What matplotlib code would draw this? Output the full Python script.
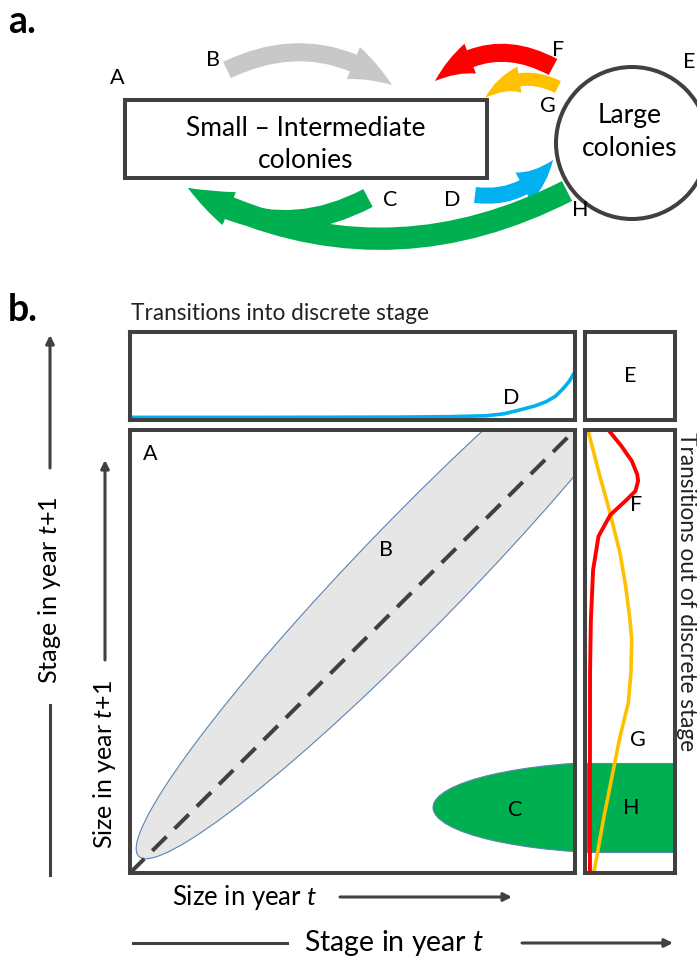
import matplotlib
matplotlib.use("Agg")
import matplotlib.pyplot as plt
from matplotlib.patches import Rectangle, Ellipse, FancyArrowPatch

plt.rcParams['font.family'] = ['Lato', 'DejaVu Sans']
plt.rcParams['mathtext.fontset'] = 'custom'
plt.rcParams['mathtext.rm'] = 'Lato'
plt.rcParams['mathtext.it'] = 'Lato:italic'

W, H = 697, 959
DARK = '#404040'
GREEN = '#00B050'
BLUE = '#00B0F0'
RED = '#FF0000'
YELLOW = '#FFC000'

# D: transition into the large-colony stage along size in year t
d_size = [0.0, 0.3, 0.6, 0.72, 0.8, 0.84, 0.876, 0.91, 0.936, 0.956, 0.974, 0.987, 1.0]
d_prob = [0.03, 0.03, 0.033, 0.038, 0.048, 0.07, 0.114, 0.16, 0.21, 0.27, 0.36, 0.44, 0.55]

# F and G: transitions out of the large-colony stage along size in year t+1
f_size = [1.0, 0.965, 0.93, 0.90, 0.885, 0.862, 0.842, 0.808, 0.76, 0.684, 0.57, 0.45, 0.25, 0.0]
f_prob = [0.26, 0.40, 0.52, 0.58, 0.59, 0.56, 0.46, 0.28, 0.15, 0.09, 0.065, 0.056, 0.055, 0.055]
g_size = [0.996, 0.90, 0.813, 0.722, 0.65, 0.571, 0.526, 0.45, 0.384, 0.308, 0.233, 0.120, 0.014, 0.0]
g_prob = [0.037, 0.16, 0.278, 0.389, 0.45, 0.50, 0.519, 0.51, 0.481, 0.389, 0.315, 0.204, 0.111, 0.093]

# H: large colonies falling back into this size range
h_low, h_high = 0.048, 0.2475

fig = plt.figure(figsize=(W / 100, H / 100), dpi=100)
bg = fig.add_axes([0, 0, 1, 1])
bg.set_xlim(0, W)
bg.set_ylim(H, 0)
bg.axis('off')


def px_axes(x0, y0, x1, y1):
    ax = fig.add_axes([x0 / W, 1 - y1 / H, (x1 - x0) / W, (y1 - y0) / H])
    ax.set_xlim(0, 1)
    ax.set_ylim(0, 1)
    ax.set_xticks([])
    ax.set_yticks([])
    for s in ax.spines.values():
        s.set_linewidth(2.9)
        s.set_color(DARK)
    ax.patch.set_alpha(0)
    return ax


def curved(tail, tip, color, tw, hw, hl, rad):
    style = f"Simple,tail_width={tw},head_width={hw},head_length={hl}"
    bg.add_patch(FancyArrowPatch(tail, tip, arrowstyle=style,
                                 connectionstyle=f"arc3,rad={rad}",
                                 color=color, lw=0, shrinkA=0, shrinkB=0,
                                 mutation_scale=1))


LBL = 15.5

# ---- a. life cycle diagram
bg.text(8, 22, 'a.', fontsize=27, fontweight='bold', va='center', ha='left')
bg.add_patch(Rectangle((125, 100), 362, 78, fill=False, lw=2.9, ec=DARK))
bg.text(306, 128, 'Small \u2013 Intermediate', fontsize=19, ha='center', va='center')
bg.text(306, 160, 'colonies', fontsize=19, ha='center', va='center')
bg.add_patch(Ellipse((632, 143), 152, 152, fill=False, lw=2.9, ec=DARK))
bg.text(630, 115, 'Large', fontsize=19, ha='center', va='center')
bg.text(630, 148, 'colonies', fontsize=19, ha='center', va='center')

curved((227, 70), (392, 85), '#C8C8C8', 13, 25, 32, -0.3)
curved((553, 67), (435, 81), RED, 13, 23, 30, 0.35)
curved((558, 87), (485, 98), YELLOW, 9.5, 19, 28, 0.35)
curved((475, 195), (553, 160), BLUE, 11.5, 24, 29, 0.3)
curved((567, 191), (188, 188), GREEN, 16, 24, 33, -0.26)
curved((368, 198), (188, 188), GREEN, 14.5, 24, 33, -0.3)

for lab, x, y in [('A', 117, 78), ('B', 213, 60), ('C', 390, 200), ('D', 452, 200),
                  ('E', 689, 62), ('F', 558, 50), ('G', 548, 106), ('H', 580, 210)]:
    bg.text(x, y, lab, fontsize=LBL, ha='center', va='center')

# ---- b. kernel
bg.text(8, 310, 'b.', fontsize=27, fontweight='bold', va='center', ha='left')
bg.text(131, 313, 'Transitions into discrete stage', fontsize=16.3, ha='left', va='center',
        color='#222222')
bg.text(686, 432, 'Transitions out of discrete stage', fontsize=16.3, rotation=-90,
        ha='center', va='top', color='#222222')

axA = px_axes(130, 430, 575, 873)
axD = px_axes(130, 332, 575, 420)
axE = px_axes(585, 332, 675, 420)
axR = px_axes(585, 430, 675, 873)

axA.add_patch(Ellipse((0.645, 0.685), 1.8, 0.24, angle=46, fc='#E6E6E6',
                      ec='#5B84B1', lw=0.8))
axA.plot([0, 1], [0, 1], color=DARK, lw=2.9, dashes=(5, 2.8))
axA.add_patch(Ellipse((1.125, 0.148), 0.888, 0.208, fc=GREEN, ec='#5B84B1', lw=0.8))
axA.text(0.045, 0.945, 'A', fontsize=LBL, ha='center', va='center')
axA.text(0.575, 0.73, 'B', fontsize=LBL, ha='center', va='center')
axA.text(0.865, 0.143, 'C', fontsize=LBL, ha='center', va='center')

axD.plot(d_size, d_prob, color=BLUE, lw=2.6, solid_capstyle='butt')
axD.text(0.857, 0.245, 'D', fontsize=LBL, ha='center', va='center')
axE.text(0.5, 0.5, 'E', fontsize=LBL, ha='center', va='center')

axR.axhspan(h_low, h_high, color=GREEN, lw=0)
axR.axhline(h_low, color='#5B84B1', lw=0.8)
axR.axhline(h_high, color='#5B84B1', lw=0.8)
axR.plot(g_prob, g_size, color=YELLOW, lw=2.6)
axR.plot(f_prob, f_size, color=RED, lw=2.8)
axR.text(0.57, 0.83, 'F', fontsize=LBL, ha='center', va='center')
axR.text(0.59, 0.30, 'G', fontsize=LBL, ha='center', va='center')
axR.text(0.51, 0.147, 'H', fontsize=LBL, ha='center', va='center')

# ---- axis arrows
arrow_kw = dict(arrowstyle='-|>', color=DARK, lw=2.2, mutation_scale=12,
                shrinkA=0, shrinkB=0)
bg.plot([50, 50], [875, 705], color=DARK, lw=2.2)
bg.annotate('', xy=(50, 335), xytext=(50, 468), arrowprops=arrow_kw)
bg.text(50, 590, 'Stage in year $\\mathit{t}$+$\\mathit{1}$', fontsize=18.2, rotation=90,
        ha='center', va='center')
bg.annotate('', xy=(105, 460), xytext=(105, 660), arrowprops=arrow_kw)
bg.text(104, 765, 'Size in year $\\mathit{t}$+$\\mathit{1}$', fontsize=18, rotation=90,
        ha='center', va='center')

bg.text(245, 897, 'Size in year $\\mathit{t}$', fontsize=18.5, ha='center', va='center')
bg.annotate('', xy=(512, 897), xytext=(340, 897), arrowprops=arrow_kw)
bg.plot([133, 287], [943, 943], color=DARK, lw=2.2)
bg.text(394, 943, 'Stage in year $\\mathit{t}$', fontsize=20.5, ha='center', va='center')
bg.annotate('', xy=(673, 943), xytext=(522, 943), arrowprops=arrow_kw)

fig.savefig('out.png', dpi=100, facecolor='white')
